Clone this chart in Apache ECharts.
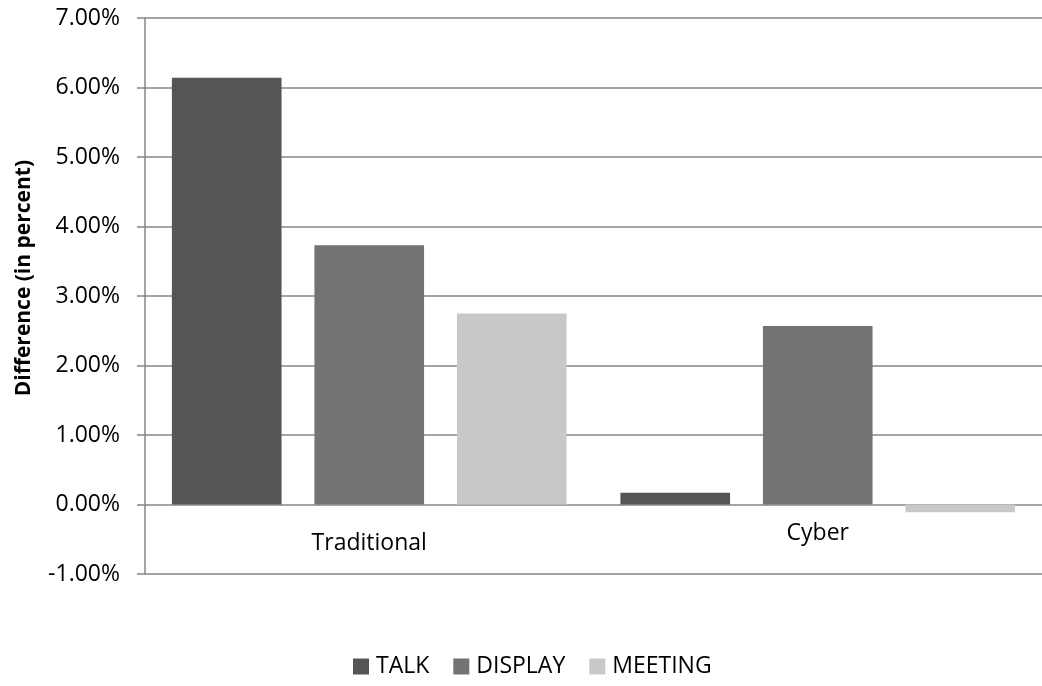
<!DOCTYPE html>
<html>
<head>
<meta charset="utf-8">
<script src="https://cdn.jsdelivr.net/npm/echarts@6/dist/echarts.min.js"></script>
<style>
  html, body { margin: 0; padding: 0; background: #ffffff; }
  #chart { width: 1042px; height: 686px; }
</style>
</head>
<body>
<div id="chart"></div>
<script>
// Categories and the three series (differences in percent)
const categories = ['Traditional', 'Cyber'];
const talk = [6.14, 0.17];
const display = [3.73, 2.57];
const meeting = [2.75, -0.11];
const seriesNames = ['TALK', 'DISPLAY', 'MEETING'];
const axisTitle = 'Difference (in percent)';

const FONT = '"Open Sans", "Noto Sans", sans-serif';
const colors = ['#555555', '#737373', '#c8c8c8'];

const chart = echarts.init(document.getElementById('chart'), null, { renderer: 'canvas' });

const barBase = {
  type: 'bar',
  barGap: '30%',
  barCategoryGap: '12%',
  animation: false
};

chart.setOption({
  animation: false,
  color: colors,
  grid: { left: 145, right: -5, top: 18, bottom: 112, containLabel: false },
  legend: {
    data: seriesNames,
    left: 348,
    top: 650,
    icon: 'rect',
    itemWidth: 16,
    itemHeight: 16,
    itemGap: 24,
    textStyle: { fontFamily: FONT, fontSize: 23, color: '#000', padding: [0, 0, 0, 2] }
  },
  graphic: [{
    type: 'text',
    left: 14,
    top: 160,
    rotation: Math.PI / 2,
    style: {
      text: axisTitle,
      font: 'bold 21px ' + FONT,
      fill: '#000'
    }
  }],
  xAxis: {
    type: 'category',
    data: categories.map((c, i) => ({
      value: c,
      textStyle: { padding: [i === 0 ? 10 : 0, 0, 0, 0] }
    })),
    // category names sit just under the zero line
    axisLine: { show: false },
    axisTick: { show: false },
    axisLabel: { fontFamily: FONT, fontSize: 23, color: '#000', margin: -52, lineHeight: 23 },
    splitLine: { show: false }
  },
  yAxis: {
    type: 'value',
    min: -1,
    max: 7,
    interval: 1,
    axisLine: { show: true, lineStyle: { color: '#868686', width: 1.5 } },
    axisTick: { show: true, length: 8, lineStyle: { color: '#868686', width: 1.5 } },
    axisLabel: {
      fontFamily: FONT, fontSize: 23, color: '#000', margin: 25,
      formatter: v => v.toFixed(2) + '%'
    },
    splitLine: { show: true, lineStyle: { color: '#868686', width: 1.5 } }
  },
  series: [
    Object.assign({ name: seriesNames[0], data: talk }, barBase),
    Object.assign({ name: seriesNames[1], data: display }, barBase),
    Object.assign({ name: seriesNames[2], data: meeting }, barBase)
  ]
});
</script>
</body>
</html>
